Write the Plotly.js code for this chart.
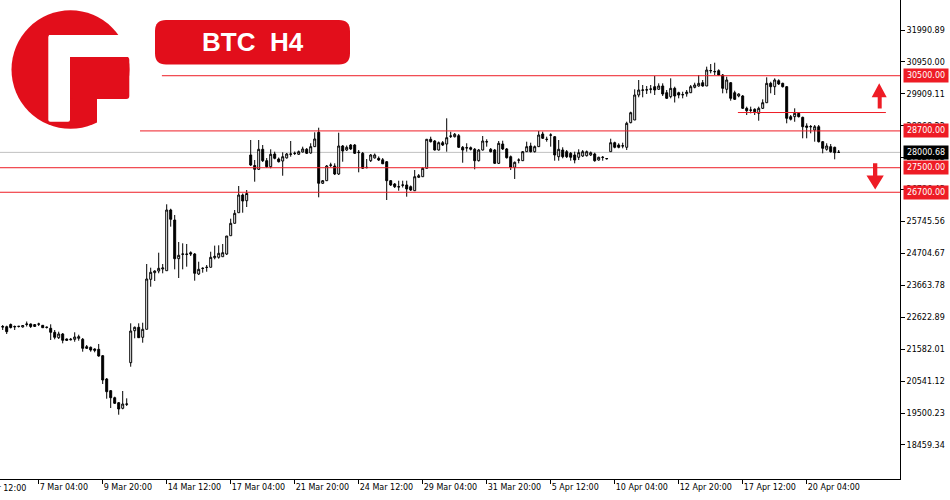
<!DOCTYPE html>
<html><head><meta charset="utf-8">
<script src="https://cdn.plot.ly/plotly-3.0.1.min.js"></script>
<style>html,body{margin:0;padding:0;background:#fff;overflow:hidden}</style>
</head><body><div id="chart" style="width:950px;height:500px"></div>
<script>
// ---- data (BTC H4, one value per candle) ----
const openP = [22322,22315,22387,22306,22322,22306,22387,22404,22322,22397,22361,22289,22263,22133,21957,22078,21915,21889,21905,21938,
21905,21664,21644,21589,21579,21370,20610,20229,20000,19837,19655,19785,21142,22185,22296,21970,22231,23861,24077,24132,
24197,24142,26121,25795,24533,24676,24686,24729,24686,24034,24213,24246,24253,24566,24579,24598,24686,25283,25687,26033,
26610,26424,27915,27572,27448,28101,27729,27533,27947,27784,27719,27820,27938,27963,27938,28013,28101,27980,28186,28655,
26992,27077,27578,27556,27295,28208,28078,28241,28241,27992,27970,27501,27729,27820,27807,27758,27696,27077,26969,26871,
26927,26937,26881,26750,27187,27207,27481,28427,28371,28078,28316,28273,28524,28512,28544,28166,28143,28153,28101,27729,
28078,28339,28101,28078,27643,28273,28111,27859,27513,27745,27729,28023,28208,28023,28186,28599,28420,28561,28512,27859,
28078,28023,27970,27915,27840,27882,27892,27915,27947,27751,27833,27800,28023,28316,28241,28208,28166,28969,29056,29871,
30024,30034,30057,30142,30057,30165,29946,29817,30089,29946,29878,29913,29946,30121,30165,30272,30165,30670,30637,30664,
30523,30057,30272,29946,29839,29839,29437,29382,29405,29274,29437,29620,30252,30142,30337,30252,30142,29165,29165,29274,
29143,28861,28844,28730,28837,28349,28101,28186,28166,28003];
const highP = [22371,22348,22420,22354,22338,22371,22485,22420,22404,22446,22371,22322,22394,22208,22153,22110,21931,21947,22133,22055,
21947,21719,21670,21611,21752,21393,20643,20251,20033,19860,20219,19980,22426,22322,22426,22446,24360,24240,24155,24729,
24360,26307,26163,25958,25078,25035,25013,24774,24718,24435,24253,24327,24761,24960,24970,25013,25273,25838,26121,26904,
26659,26773,28404,27751,28404,28241,27816,28101,28023,27833,28003,27980,28371,28029,28062,28186,28143,28297,28655,28805,
27099,27588,27663,27643,28642,28241,28225,28273,28273,28078,28013,27784,27947,27963,27868,27816,27719,27099,27001,27077,
27077,27077,26920,27425,27295,27513,28437,28512,28404,28355,28371,29111,28675,28632,28599,28208,28297,28192,28143,28111,
28534,28427,28143,28111,28371,28381,28143,27898,27702,27807,28045,28349,28316,28225,28697,28675,28512,28622,28534,28404,
28166,28078,28013,28023,28101,28078,28062,28029,27990,27859,27882,27816,28446,28349,28297,28316,29000,29327,30057,30360,
30197,30165,30197,30490,30252,30252,30034,30415,30142,29978,29978,30034,30197,30272,30523,30360,30795,30882,30925,30709,
30556,30468,30295,30012,29926,29871,29491,29491,29437,29491,29730,30448,30304,30415,30383,30272,30165,29219,29437,29294,
29165,28948,28893,28893,28893,28371,28297,28273,28186,28078];
const lowP = [22208,22078,22257,22208,22289,22289,22322,22273,22306,22338,22273,22257,21882,21905,21915,21774,21849,21866,21826,21859,
21501,21589,21501,21481,21338,20447,19968,19664,19795,19446,19622,19730,21011,21938,21947,21794,22231,23620,23806,24057,
24057,24142,25578,24187,23904,24187,24273,24621,23816,24001,24077,24109,24253,24513,24533,24598,24653,25283,25687,26033,
26033,26219,27556,27044,27425,27686,27490,27481,27774,27670,27239,27800,27859,27915,27915,27996,27947,27960,28176,26535,
26969,27066,27523,27262,27262,27696,28045,28078,27947,27350,27458,27481,27686,27800,27719,27621,26447,26904,26838,26750,
26855,26555,26741,26741,27164,27197,27474,28322,28062,28062,28208,28023,28469,28485,28143,27663,28023,28062,27448,27702,
28062,28186,27996,27621,27621,28078,27800,27425,27133,27643,27719,28013,27996,27996,28176,28437,28349,28186,27729,27729,
27807,27816,27729,27643,27751,27849,27866,27882,27696,27729,27729,27768,28023,28133,28133,28133,28078,28948,29056,29796,
29796,29904,29926,29871,30034,29839,29741,29763,29627,29763,29763,29817,29935,30089,30142,30142,30165,30578,30523,30507,
29926,29926,29686,29708,29796,29415,29219,29274,29219,29033,29415,29620,29926,29871,30197,30115,28948,29040,28999,29138,
28459,28459,28622,28349,28322,27970,28055,27990,27774,27980];
const closeP = [22306,22153,22289,22322,22330,22354,22404,22322,22387,22404,22283,22299,22133,21970,22078,21872,21872,21905,21980,21990,
21611,21611,21556,21546,21360,20577,20196,20000,19818,19632,19795,19795,22175,22296,21957,22231,23871,24090,24132,24220,
24230,26121,25818,24533,24644,24686,24676,24686,24057,24187,24220,24253,24579,24611,24709,24729,25273,25687,26013,26610,
26414,26659,27588,27448,28101,27729,27533,27938,27807,27696,27859,27947,27947,27970,28023,28111,27970,28186,28437,26992,
27077,27556,27588,27295,28208,28045,28166,28111,27970,28003,27481,27510,27915,27915,27751,27628,27077,26937,26881,26881,
26937,26806,26773,27207,27239,27481,28427,28349,28078,28316,28241,28479,28534,28590,28166,28078,28153,28101,27729,28078,
28371,28349,28023,27643,28296,28111,27826,27513,27676,27751,28023,28186,28023,28186,28567,28459,28427,28567,27915,28101,
27859,27859,27840,27751,27990,28023,28023,27990,27729,27840,27840,27794,28316,28166,28166,28215,28948,29294,29871,30034,
30034,30041,30067,30034,30165,29904,29763,30089,29839,29871,29884,29965,30142,30197,30252,30165,30686,30664,30631,30523,
30089,30360,29763,29730,29904,29437,29359,29376,29327,29437,29620,30252,30142,30360,30230,30142,29111,29080,29274,29165,
28837,28818,28837,28837,28349,28133,28208,28023,27990,28000.68];

const xTickIndex  = [-7, 9, 25, 41, 57, 73, 89, 105, 121, 137, 153, 169, 185, 201];
const xTickLabels = ["2 Mar 12:00","7 Mar 04:00","9 Mar 20:00","14 Mar 12:00","17 Mar 04:00","21 Mar 20:00",
  "24 Mar 12:00","29 Mar 04:00","31 Mar 20:00","5 Apr 12:00","10 Apr 04:00","12 Apr 20:00","17 Apr 12:00","20 Apr 04:00"];
const yTickVals   = [31990.89,30950.00,29909.11,28868.22,27827.33,26786.45,25745.56,24704.67,23663.78,22622.89,21582.01,20541.12,19500.23,18459.34];
const yTickLabels = ["31990.89","30950.00","29909.11","28868.22","27827.33","26786.45","25745.56","24704.67","23663.78","22622.89","21582.01","20541.12","19500.23","18459.34"];

const levelPrices = [30500, 28700, 27500, 26700];
const levelLabels = ["30500.00", "28700.00", "27500.00", "26700.00"];
const levelStartIdx = [39.8, 33.3, null, null];   // null = whole width
const bidPrice = 28000.68, bidLabel = "28000.68";
const subLevel = 29300;
const titleText = "BTC\u00a0\u00a0H4";

// ---- layout geometry ----
const W = 950, H = 500, ML = 0, MR = 50, MT = 0, MB = 21;
const PW = W - ML - MR, PH = H - MT - MB;
const xr = [-0.675, 224.325];
const yr = [17349.5, 32969.2];
const X = px => px / PW;
const Y = py => 1 - py / PH;

const RED = '#ee1c25', LOGO = '#e20e1b';
const FONT = 'DejaVu Sans';
const FS = 8;

const xIdx = openP.map((_, i) => i);

const trace = {
  type: 'candlestick', x: xIdx, open: openP, high: highP, low: lowP, close: closeP,
  increasing: {line: {color: '#000', width: 1}, fillcolor: '#ffffff'},
  decreasing: {line: {color: '#000', width: 1}, fillcolor: '#000000'},
  whiskerwidth: 0, hoverinfo: 'skip', showlegend: false
};

function poly(pts) { return 'M' + pts.map(p => X(p[0]) + ',' + Y(p[1])).join('L') + 'Z'; }
function roundRect(x0, y0, x1, y1, r) {
  return `M${X(x0 + r)},${Y(y0)}L${X(x1 - r)},${Y(y0)}Q${X(x1)},${Y(y0)} ${X(x1)},${Y(y0 + r)}` +
    `L${X(x1)},${Y(y1 - r)}Q${X(x1)},${Y(y1)} ${X(x1 - r)},${Y(y1)}L${X(x0 + r)},${Y(y1)}` +
    `Q${X(x0)},${Y(y1)} ${X(x0)},${Y(y1 - r)}L${X(x0)},${Y(y0 + r)}Q${X(x0)},${Y(y0)} ${X(x0 + r)},${Y(y0)}Z`;
}

const shapes = [];
// bid line
shapes.push({type: 'line', xref: 'paper', x0: 0, x1: 1, yref: 'y', y0: bidPrice, y1: bidPrice,
  line: {color: '#c0c0c0', width: 1}, layer: 'below'});
// level lines
levelPrices.forEach((p, k) => {
  const s = levelStartIdx[k];
  if (s === null) shapes.push({type: 'line', xref: 'paper', x0: 0, x1: 1, yref: 'y', y0: p, y1: p, line: {color: RED, width: 1}, layer: 'above'});
  else shapes.push({type: 'line', xref: 'x', x0: s, x1: xr[1], yref: 'y', y0: p, y1: p, line: {color: RED, width: 1}, layer: 'above'});
});
shapes.push({type: 'line', xref: 'x', x0: 183.8, x1: 220.8, yref: 'y', y0: subLevel, y1: subLevel, line: {color: RED, width: 1}, layer: 'above'});

// arrows
shapes.push({type: 'path', xref: 'paper', yref: 'paper', fillcolor: RED, line: {width: 0}, layer: 'above',
  path: poly([[877.7,108.5],[877.7,97.3],[871.7,97.3],[879.2,83.3],[886.7,97.3],[881.7,97.3],[881.7,108.5]])});
shapes.push({type: 'path', xref: 'paper', yref: 'paper', fillcolor: RED, line: {width: 0}, layer: 'above',
  path: poly([[873,163.3],[877.3,163.3],[877.3,175.5],[883.8,175.5],[875.2,189.5],[866.5,175.5],[873,175.5]])});

// logo
shapes.push({type: 'circle', xref: 'paper', yref: 'paper', x0: X(11.5), x1: X(129.5), y0: Y(128.8), y1: Y(10.3),
  fillcolor: LOGO, line: {width: 0}, layer: 'above'});
shapes.push({type: 'path', xref: 'paper', yref: 'paper', fillcolor: '#fff', line: {width: 0}, layer: 'above',
  path: roundRect(48.3, 35, 70, 121.7, 2)});
shapes.push({type: 'path', xref: 'paper', yref: 'paper', fillcolor: '#fff', line: {width: 0}, layer: 'above',
  path: poly([[49, 35], [140, 35], [140, 57], [49, 57]])});
shapes.push({type: 'path', xref: 'paper', yref: 'paper', fillcolor: '#fff', line: {width: 0}, layer: 'above',
  path: poly([[97, 99], [140, 99], [140, 135], [97, 135]])});
shapes.push({type: 'path', xref: 'paper', yref: 'paper', fillcolor: LOGO, line: {width: 0}, layer: 'above',
  path: roundRect(70, 57, 129.3, 99, 3)});
// title box
shapes.push({type: 'path', xref: 'paper', yref: 'paper', fillcolor: LOGO, line: {width: 0}, layer: 'above',
  path: roundRect(155, 20, 350, 64.5, 11)});

const annotations = [];
annotations.push({xref: 'paper', yref: 'paper', x: X(253), y: Y(42.5), xanchor: 'center', yanchor: 'middle',
  text: '<b>' + titleText + '</b>', showarrow: false, font: {family: 'Liberation Sans', size: 26, color: '#fff'}});
// level label boxes
levelPrices.forEach((p, k) => {
  annotations.push({xref: 'paper', yref: 'y', x: X(902.5), y: p, xanchor: 'left', yanchor: 'middle',
    text: levelLabels[k], showarrow: false, bgcolor: RED, width: 42, height: 11, borderpad: 1, align: 'center',
    font: {family: FONT, size: FS, color: '#fff'}});
});
annotations.push({xref: 'paper', yref: 'y', x: X(902.5), y: bidPrice, xanchor: 'left', yanchor: 'middle',
  text: bidLabel, showarrow: false, bgcolor: '#000', width: 42, height: 11, borderpad: 1, align: 'center',
  font: {family: FONT, size: FS, color: '#fff'}});
// partially visible first date label (tick outside the visible range)
const firstTickPx = (xTickIndex[0] - xr[0]) / (xr[1] - xr[0]) * PW;
annotations.push({xref: 'paper', yref: 'paper', x: X(firstTickPx + 1), y: Y(488.5), xanchor: 'left', yanchor: 'middle',
  text: xTickLabels[0], showarrow: false, font: {family: FONT, size: FS, color: '#000'}});

const layout = {
  width: W, height: H, margin: {l: ML, r: MR, t: MT, b: MB, pad: 0},
  paper_bgcolor: '#fff', plot_bgcolor: '#fff', showlegend: false,
  font: {family: FONT, size: FS, color: '#000'},
  xaxis: {range: xr, showgrid: false, zeroline: false, showline: true, linecolor: '#000', linewidth: 1,
    ticks: 'outside', ticklen: 4, tickcolor: '#000', tickwidth: 1, tickvals: xTickIndex, ticktext: xTickLabels,
    tickangle: 0, ticklabelposition: 'outside right', ticklabeloverflow: 'allow', automargin: false,
    rangeslider: {visible: false}, fixedrange: true,
    tickfont: {family: FONT, size: FS, color: '#000'}},
  yaxis: {range: yr, side: 'right', showgrid: false, zeroline: false, showline: true, linecolor: '#000', linewidth: 1,
    ticks: 'outside', ticklen: 4, tickcolor: '#000', tickwidth: 1, tickvals: yTickVals, ticktext: yTickLabels,
    automargin: false, fixedrange: true, tickfont: {family: FONT, size: FS, color: '#000'}},
  shapes: shapes, annotations: annotations
};

Plotly.newPlot('chart', [trace], layout, {staticPlot: true, displayModeBar: false});
</script>
</body></html>
